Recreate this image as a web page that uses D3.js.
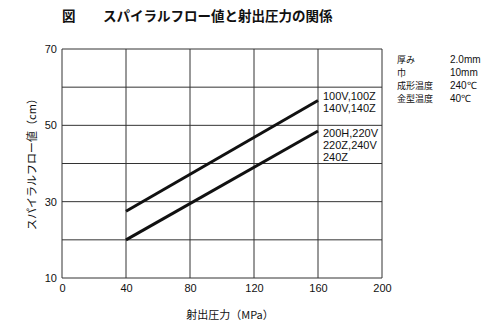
<!DOCTYPE html>
<html>
<head>
<meta charset="utf-8">
<script src="https://cdn.jsdelivr.net/npm/d3@7"></script>
<style>
  body { margin: 0; background: #fff; }
  text { font-family: "Noto Sans CJK JP", "Noto Sans", sans-serif; fill: #111; }
</style>
</head>
<body>
<div id="chart"></div>
<script>
// data
var pressure = [40, 160];
var seriesA = [27.5, 56.5]; // 100V,100Z / 140V,140Z
var seriesB = [20, 48.5];   // 200H,220V / 220Z,240V / 240Z
var labelsA = ["100V,100Z", "140V,140Z"];
var labelsB = ["200H,220V", "220Z,240V", "240Z"];
var xTicks = [0, 40, 80, 120, 160, 200];
var yGrid = [10, 20, 30, 40, 50, 60, 70];
var yTickLabels = [10, 30, 50, 70];
var conditionNames = ["厚み", "巾", "成形温度", "金型温度"];
var conditionValues = ["2.0mm", "10mm", "240℃", "40℃"];

var width = 500, height = 335;
var margin = { top: 49, right: 118, bottom: 57, left: 62 };
var chartWidth = width - margin.left - margin.right;
var chartHeight = height - margin.top - margin.bottom;

var svg = d3.select("#chart")
  .append("svg")
  .attr("width", width)
  .attr("height", height);

// title
svg.append("text")
  .attr("x", 62).attr("y", 21)
  .style("font-size", "13.5px").style("font-weight", "bold")
  .text("図");
svg.append("text")
  .attr("x", 103).attr("y", 21)
  .style("font-size", "13.5px").style("font-weight", "bold")
  .text("スパイラルフロー値と射出圧力の関係");

var g = svg.append("g")
  .attr("transform", "translate(" + margin.left + "," + margin.top + ")");

var xScale = d3.scaleLinear().domain([0, 200]).range([0, chartWidth]);
var yScale = d3.scaleLinear().domain([10, 70]).range([chartHeight, 0]);

// grid
g.append("g").selectAll("line")
  .data(yGrid)
  .enter()
  .append("line")
  .attr("x1", 0).attr("x2", chartWidth)
  .attr("y1", function(d) { return yScale(d); })
  .attr("y2", function(d) { return yScale(d); })
  .attr("stroke", "#333").attr("stroke-width", 1);

g.append("g").selectAll("line")
  .data(xTicks)
  .enter()
  .append("line")
  .attr("y1", 0).attr("y2", chartHeight)
  .attr("x1", function(d) { return xScale(d); })
  .attr("x2", function(d) { return xScale(d); })
  .attr("stroke", "#333").attr("stroke-width", 1);

// axes (labels only)
var xAxis = d3.axisBottom(xScale).tickValues(xTicks).tickSize(0).tickPadding(6);
g.append("g")
  .attr("class", "x-axis")
  .attr("transform", "translate(0," + chartHeight + ")")
  .call(xAxis)
  .call(function(s) { s.select(".domain").remove(); })
  .selectAll("text").style("font-size", "11px")
  .style("font-family", "Arial, 'Liberation Sans', sans-serif");

var yAxis = d3.axisLeft(yScale).tickValues(yTickLabels).tickSize(0).tickPadding(5);
g.append("g")
  .attr("class", "y-axis")
  .call(yAxis)
  .call(function(s) { s.select(".domain").remove(); })
  .selectAll("text").style("font-size", "11px")
  .style("font-family", "Arial, 'Liberation Sans', sans-serif");

// series lines
var line = d3.line()
  .x(function(d) { return xScale(d[0]); })
  .y(function(d) { return yScale(d[1]); });

[seriesA, seriesB].forEach(function(s) {
  g.append("path")
    .datum(pressure.map(function(p, i) { return [p, s[i]]; }))
    .attr("d", line)
    .attr("fill", "none")
    .attr("stroke", "#111")
    .attr("stroke-width", 3);
});

// series labels
function addLabel(lines, value) {
  var t = g.append("text")
    .attr("x", xScale(160) + 5)
    .attr("y", yScale(value))
    .style("font-size", "11px")
    .style("font-family", "Arial, 'Liberation Sans', sans-serif");
  lines.forEach(function(l, i) {
    t.append("tspan").attr("x", xScale(160) + 5).attr("dy", i === 0 ? 0 : 12).text(l);
  });
}
addLabel(labelsA, 56.6);
addLabel(labelsB, 46.9);

// axis titles
svg.append("text")
  .attr("transform", "translate(36," + (margin.top + chartHeight / 2 - 2) + ") rotate(-90)")
  .attr("text-anchor", "middle")
  .style("font-size", "11px")
  .text("スパイラルフロー値（cm）");

svg.append("text")
  .attr("x", 230).attr("y", 319)
  .attr("text-anchor", "middle")
  .style("font-size", "11px")
  .text("射出圧力（MPa）");

// conditions
svg.append("g").selectAll("text")
  .data(conditionNames)
  .enter()
  .append("text")
  .attr("x", 397)
  .attr("y", function(d, i) { return 63 + i * 13; })
  .style("font-size", "9px")
  .text(function(d) { return d; });

svg.append("g").selectAll("text")
  .data(conditionValues)
  .enter()
  .append("text")
  .attr("x", 450)
  .attr("y", function(d, i) { return 63 + i * 13; })
  .style("font-size", "10px")
  .style("font-family", "Arial, 'Liberation Sans', sans-serif")
  .text(function(d) { return d; });
</script>
</body>
</html>
